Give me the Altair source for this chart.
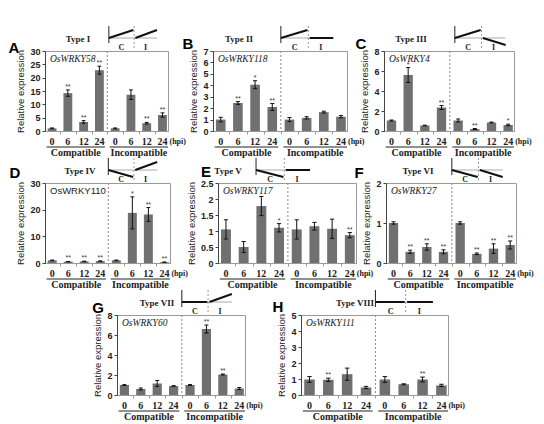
import altair as alt
import pandas as pd

# ---------------- data ----------------
hours = ["0", "6", "12", "24", "0", "6", "12", "24"]
groups = ["Compatible", "Incompatible"]
group_of_bar = [0, 0, 0, 0, 1, 1, 1, 1]
letters = ["A", "B", "C", "D", "E", "F", "G", "H"]
types = ["Type I", "Type II", "Type III", "Type IV", "Type V", "Type VI", "Type VII", "Type VIII"]
genes = ["OsWRKY58", "OsWRKY118", "OsWRKY4", "OsWRKY110", "OsWRKY117", "OsWRKY27", "OsWRKY60", "OsWRKY111"]
ymax = [30, 7, 8, 30, 2.5, 2, 8, 5]
ystep = [5, 1, 2, 10, 0.5, 1, 2, 1]
trend_c = ["up", "up", "up", "down", "down", "down", "flat", "flat"]
trend_i = ["up", "flat", "down", "up", "flat", "down", "up", "flat"]

A_val = [1.0, 14.2, 3.4, 22.8, 1.0, 13.6, 2.9, 6.0]
A_err = [0.15, 1.2, 0.5, 1.5, 0.15, 1.8, 0.3, 0.8]
A_sig = ["", "**", "**", "**", "", "", "**", "**"]

B_val = [1.0, 2.45, 4.05, 2.1, 1.0, 1.15, 1.65, 1.25]
B_err = [0.2, 0.12, 0.35, 0.3, 0.18, 0.1, 0.08, 0.1]
B_sig = ["", "**", "*", "**", "", "", "", ""]

C_val = [1.05, 5.6, 0.55, 2.35, 1.05, 0.2, 0.85, 0.6]
C_err = [0.05, 0.75, 0.03, 0.2, 0.15, 0.05, 0.04, 0.08]
C_sig = ["", "*", "", "**", "", "**", "", "*"]

D_val = [1.0, 0.5, 0.6, 0.7, 1.0, 18.8, 18.2, 0.3]
D_err = [0.1, 0.08, 0.1, 0.1, 0.1, 6.0, 2.6, 0.05]
D_sig = ["", "**", "**", "**", "", "*", "**", "**"]

E_val = [1.05, 0.5, 1.78, 1.1, 1.05, 1.15, 1.07, 0.87]
E_err = [0.3, 0.17, 0.3, 0.13, 0.3, 0.12, 0.3, 0.08]
E_sig = ["", "", "", "*", "", "", "", "**"]

F_val = [1.0, 0.28, 0.4, 0.28, 1.0, 0.23, 0.36, 0.45]
F_err = [0.03, 0.04, 0.08, 0.05, 0.03, 0.02, 0.12, 0.1]
F_sig = ["", "**", "**", "**", "", "**", "**", "**"]

G_val = [1.0, 0.6, 1.15, 0.9, 1.0, 6.6, 2.05, 0.65]
G_err = [0.04, 0.1, 0.3, 0.03, 0.04, 0.4, 0.05, 0.1]
G_sig = ["", "", "", "", "", "**", "**", ""]

H_val = [0.97, 0.95, 1.3, 0.47, 0.97, 0.67, 0.97, 0.6]
H_err = [0.18, 0.1, 0.38, 0.07, 0.18, 0.03, 0.15, 0.07]
H_sig = ["", "**", "", "", "", "", "**", ""]

panel_data = [
    (A_val, A_err, A_sig), (B_val, B_err, B_sig), (C_val, C_err, C_sig),
    (D_val, D_err, D_sig), (E_val, E_err, E_sig), (F_val, F_err, F_sig),
    (G_val, G_err, G_sig), (H_val, H_err, H_sig),
]

# ---------------- style / layout ----------------
BAR = "#707070"
SANS = "Liberation Sans"
SERIF = "Liberation Serif"
PH = 80
styles = [
    dict(w=123, tx=33, lx=-31, ly=-3, ix=3.6, gfont=SERIF, italic=True),
    dict(w=134, tx=26, lx=-25, ly=-7, ix=3.5, gfont=SERIF, italic=True),
    dict(w=130, tx=27, lx=-23, ly=-7, ix=3.8, gfont=SERIF, italic=True),
    dict(w=125, tx=35, lx=-30, ly=-10, ix=3.5, gfont=SANS, italic=False),
    dict(w=138, tx=10, lx=-12, ly=-11, ix=1.7, gfont=SERIF, italic=True),
    dict(w=130, tx=32, lx=-27, ly=-10, ix=3.5, gfont=SERIF, italic=True),
    dict(w=128, tx=40, lx=-19, ly=-7, ix=3.5, gfont=SERIF, italic=True),
    dict(w=147, tx=54, lx=-23, ly=-8, ix=3.5, gfont=SERIF, italic=True),
]
TREND_DY = {"up": -8, "down": 7, "flat": 0}


def one():
    return alt.Chart(pd.DataFrame({"k": [0]}))


def panel(i):
    val, err, sig = panel_data[i]
    st = styles[i]
    W = st["w"]
    df = pd.DataFrame({
        "pos": list(range(len(val))),
        "hour": hours,
        "val": val,
        "err": err,
        "sig": sig,
        "grp": [groups[g] for g in group_of_bar],
    })
    xs = alt.Scale(domain=[-0.45, 7.35], nice=False, zero=False)
    ys = alt.Scale(domain=[0, ymax[i]], nice=False)
    nt = int(round(ymax[i] / ystep[i]))
    yvals = [round(k * ystep[i], 3) for k in range(nt + 1)]

    xaxis = alt.Axis(values=[k + 0.5 for k in range(-1, 8)], labels=False, title=None,
                     domainColor="#999", tickColor="#999", tickSize=3, grid=False)
    yaxis = alt.Axis(values=yvals, labelExpr="'' + datum.value", title="Relative expression",
                     grid=False, labelFont=SANS, labelFontWeight="bold", labelFontSize=9,
                     labelColor="#222", tickSize=3, tickColor="#444", domainColor="#444",
                     titleFont=SANS, titleFontSize=9.5, titleFontWeight="normal",
                     titleColor="#222", titlePadding=4, labelPadding=2)

    def X(f):
        return alt.X(f, type="quantitative", scale=xs, axis=xaxis)

    def Y(f):
        return alt.Y(f, type="quantitative", scale=ys, axis=yaxis)

    def XD(v):
        return alt.XDatum(v, type="quantitative", scale=xs, axis=xaxis)

    base = alt.Chart(df)
    bars = base.transform_calculate(x1="datum.pos - 0.28", x2="datum.pos + 0.28").mark_bar(
        color=BAR).encode(x=X("x1"), x2="x2:Q", y=Y("val"), y2=alt.datum(0))

    eb = base.transform_calculate(lo="datum.val - datum.err", hi="datum.val + datum.err",
                                  c1="datum.pos - 0.12", c2="datum.pos + 0.12")
    err_line = eb.mark_rule(color="#111", strokeWidth=1).encode(x=X("pos"), y=Y("lo"), y2="hi:Q")
    cap_hi = eb.mark_rule(color="#111", strokeWidth=1).encode(x=X("c1"), x2="c2:Q", y=Y("hi"))
    cap_lo = eb.mark_rule(color="#111", strokeWidth=1).encode(x=X("c1"), x2="c2:Q", y=Y("lo"))
    stars = eb.mark_text(baseline="bottom", dy=0, fontSize=7, font=SANS, color="#333").encode(
        x=X("pos"), y=Y("hi"), text="sig:N")

    sep_x = (df["pos"][3] + df["pos"][4]) / 2
    sep = alt.Chart(pd.DataFrame({"s": [sep_x]})).mark_rule(
        color="#888", strokeDash=[2, 2], strokeWidth=1).encode(
        x=X("s"), y=alt.value(0), y2=alt.value(PH))

    hour_lbl = base.mark_text(font=SERIF, fontWeight="bold", fontSize=10, color="#222").encode(
        x=X("pos"), y=alt.value(PH + 11), text="hour:N")
    hpi = alt.Chart(pd.DataFrame({"t": ["(hpi)"], "p": [df["pos"].max()]})).mark_text(
        align="left", dx=7, font=SERIF, fontWeight="bold", fontSize=8, color="#222").encode(
        x=X("p"), y=alt.value(PH + 11), text="t:N")

    gdf = df.groupby("grp", as_index=False).agg(pmin=("pos", "min"), pmax=("pos", "max"))
    gdf["g0"] = gdf["pmin"] - 0.35
    gdf["g1"] = gdf["pmax"] + 0.35
    gdf["gc"] = (gdf["pmin"] + gdf["pmax"]) / 2
    gline = alt.Chart(gdf).mark_rule(color="#222", strokeWidth=1).encode(
        x=X("g0"), x2="g1:Q", y=alt.value(PH + 16))
    gtext = alt.Chart(gdf).mark_text(font=SERIF, fontWeight="bold", fontSize=10, color="#222").encode(
        x=X("gc"), y=alt.value(PH + 22), text="grp:N")

    # schematic icon of the expression pattern
    x0 = st["ix"]
    xm = x0 + 1.6
    xe = xm + 1.45
    icon_v = one().mark_rule(color="#222", strokeWidth=1).encode(
        x=XD(x0), y=alt.value(-25), y2=alt.value(-8))
    icon_base = one().mark_rule(color="#aaa", strokeWidth=1).encode(
        x=XD(x0), x2=alt.X2Datum(xe), y=alt.value(-13))
    icon_mid = one().mark_rule(color="#999", strokeDash=[2, 2], strokeWidth=1).encode(
        x=XD(xm), y=alt.value(-25), y2=alt.value(-1))
    icon_c = one().mark_rule(color="#111", strokeWidth=2).encode(
        x=XD(x0), x2=alt.X2Datum(xm - 0.05),
        y=alt.value(-13), y2=alt.value(-13 + TREND_DY[trend_c[i]]))
    icon_i = one().mark_rule(color="#111", strokeWidth=2).encode(
        x=XD(xm + 0.08), x2=alt.X2Datum(xe),
        y=alt.value(-13), y2=alt.value(-13 + TREND_DY[trend_i[i]]))
    lbl_c = one().mark_text(font=SERIF, fontWeight="bold", fontSize=8, color="#222").encode(
        x=XD((x0 + xm) / 2), y=alt.value(-3), text=alt.value("C"))
    lbl_i = one().mark_text(font=SERIF, fontWeight="bold", fontSize=8, color="#222").encode(
        x=XD((xm + xe) / 2), y=alt.value(-3), text=alt.value("I"))

    type_lbl = one().mark_text(font=SERIF, fontWeight="bold", fontSize=9, color="#222").encode(
        x=alt.value(st["tx"]), y=alt.value(-12), text=alt.value(types[i]))
    gene_kw = dict(fontStyle="italic") if st["italic"] else {}
    gene = one().mark_text(align="left", font=st["gfont"], fontSize=9.5, color="#222", **gene_kw).encode(
        x=alt.value(5), y=alt.value(8), text=alt.value(genes[i]))
    letter = one().mark_text(font=SANS, fontWeight="bold", fontSize=15, color="#000").encode(
        x=alt.value(st["lx"]), y=alt.value(st["ly"]), text=alt.value(letters[i]))

    return alt.layer(
        bars, err_line, cap_hi, cap_lo, stars, sep, hour_lbl, hpi, gline, gtext,
        icon_base, icon_v, icon_mid, icon_c, icon_i, lbl_c, lbl_i, type_lbl, gene, letter,
    ).properties(width=W, height=PH, view=alt.ViewBackground(stroke="#999", strokeWidth=1))


def spacer(w):
    return alt.Chart(pd.DataFrame({"k": [0]})).mark_point(opacity=0).encode(
        x=alt.value(0), y=alt.value(0)).properties(width=w, height=PH)


P = [panel(i) for i in range(8)]
row1 = alt.hconcat(P[0], spacer(45), P[1], spacer(37), P[2], spacing=0, bounds="flush")
row2 = alt.hconcat(P[3], spacer(48), P[4], spacer(30), P[5], spacing=0, bounds="flush")
row3 = alt.hconcat(spacer(72), P[6], spacer(56), P[7], spacing=0, bounds="flush")

chart = alt.vconcat(row1, row2, row3, spacing=-2).properties(
    padding={"left": 0, "top": 17, "right": 0, "bottom": 0}
).configure_view(stroke=None)

chart.save("out.html", embed_options={"renderer": "svg", "actions": False})
